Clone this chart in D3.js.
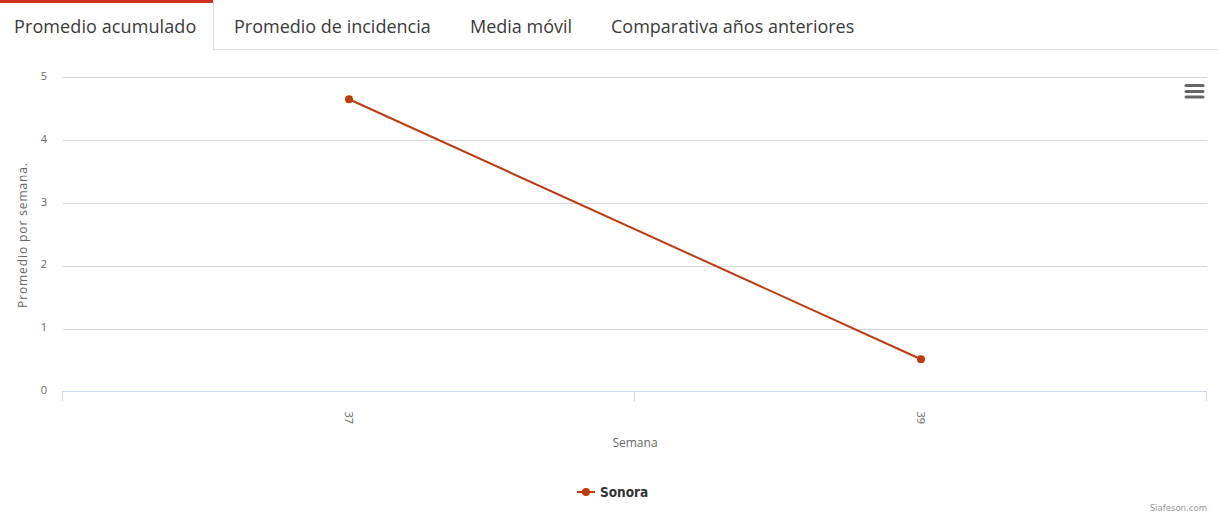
<!DOCTYPE html>
<html>
<head>
<meta charset="utf-8">
<script src="https://cdn.jsdelivr.net/npm/d3@7"></script>
<style>
  body { margin: 0; background: #fff; }
  svg { display: block; }
  .tab { font-family: 'Open Sans', sans-serif; font-size: 18px; }
  .axis text { font-family: 'Open Sans', sans-serif; font-size: 11px; fill: #666; }
  .axis-title { font-family: 'Open Sans', sans-serif; font-size: 12px; fill: #666; }
</style>
</head>
<body>
<div id="chart"></div>
<script>
// data
var tabs = ['Promedio acumulado', 'Promedio de incidencia', 'Media móvil', 'Comparativa años anteriores'];
var semanas = ['37', '39'];
var sonora = [4.65, 0.51];
var yTicks = [0, 1, 2, 3, 4, 5];
var seriesName = 'Sonora';
var color = '#c0390b';

var W = 1218, H = 519;
var plot = { left: 63, right: 1207, top: 77.3, bottom: 391.3 };

var svg = d3.select('#chart').append('svg')
  .attr('width', W).attr('height', H);

// tabs
var tabX = [14, 234, 470, 611];
svg.append('line')
  .attr('x1', 213.5).attr('x2', W).attr('y1', 49.5).attr('y2', 49.5)
  .attr('stroke', '#ddd');
svg.append('line')
  .attr('x1', 213.5).attr('x2', 213.5).attr('y1', 2).attr('y2', 49.5)
  .attr('stroke', '#ddd');
svg.append('rect')
  .attr('x', 0).attr('y', 0).attr('width', 213).attr('height', 3)
  .attr('fill', '#d0311e');
svg.selectAll('text.tab').data(tabs).enter().append('text')
  .attr('class', 'tab')
  .attr('x', function(d, i) { return tabX[i]; })
  .attr('y', 33)
  .attr('fill', '#3a3a3a')
  .attr('letter-spacing', function(d, i) { return i == 0 ? '0.1px' : '0'; })
  .text(function(d) { return d; });

// scales
var x = d3.scaleBand().domain(semanas).range([plot.left, plot.right]);
var y = d3.scaleLinear().domain([0, 5]).range([plot.bottom, plot.top]);

// grid
svg.append('g').selectAll('line').data(yTicks.slice(1)).enter().append('line')
  .attr('x1', plot.left).attr('x2', plot.right)
  .attr('y1', function(d) { return Math.round(y(d)) + 0.5; })
  .attr('y2', function(d) { return Math.round(y(d)) + 0.5; })
  .attr('stroke', '#d8d8d8');

// y axis
var yAxis = d3.axisLeft(y).tickValues(yTicks).tickFormat(d3.format('d')).tickSize(0).tickPadding(0);
svg.append('g').attr('class', 'axis axis-y')
  .attr('transform', 'translate(47,0)')
  .call(yAxis)
  .call(function(g) {
    g.select('.domain').remove();
    g.selectAll('.tick text').attr('dy', '0.2em');
  });

// x axis
var xAxis = d3.axisBottom(x).tickSize(0);
svg.append('g').attr('class', 'axis axis-x')
  .attr('transform', 'translate(0,' + (Math.round(plot.bottom) + 0.5) + ')')
  .call(xAxis)
  .call(function(g) {
    g.select('.domain').remove();
    g.selectAll('.tick text')
      .attr('transform', 'rotate(90)')
      .attr('text-anchor', 'start')
      .attr('x', 20).attr('y', 0).attr('dy', '0.35em');
  });
var xLine = svg.append('g');
xLine.append('line')
  .attr('x1', plot.left).attr('x2', plot.right)
  .attr('y1', Math.round(plot.bottom) + 0.5).attr('y2', Math.round(plot.bottom) + 0.5)
  .attr('stroke', '#ccd6eb');
var bounds = semanas.map(function(d) { return x(d); }).concat([plot.right]);
xLine.selectAll('line.tick').data(bounds).enter().append('line')
  .attr('class', 'tick')
  .attr('x1', function(d) { return Math.round(d) - 0.5; })
  .attr('x2', function(d) { return Math.round(d) - 0.5; })
  .attr('y1', Math.round(plot.bottom)).attr('y2', Math.round(plot.bottom) + 10)
  .attr('stroke', '#ccd6eb');

// axis titles
svg.append('text').attr('class', 'axis-title')
  .attr('x', (plot.left + plot.right) / 2).attr('y', 447)
  .attr('text-anchor', 'middle')
  .text('Semana');
svg.append('text').attr('class', 'axis-title')
  .attr('transform', 'translate(27,' + 235 + ') rotate(-90)')
  .attr('text-anchor', 'middle')
  .attr('letter-spacing', '0.9px')
  .text('Promedio por semana.');

// series
var pts = semanas.map(function(d, i) { return { x: d, y: sonora[i] }; });
var line = d3.line()
  .x(function(d) { return x(d.x) + x.bandwidth() / 2; })
  .y(function(d) { return y(d.y); });
svg.append('path').datum(pts)
  .attr('d', line)
  .attr('fill', 'none')
  .attr('stroke', color)
  .attr('stroke-width', 2);
svg.append('g').selectAll('circle').data(pts).enter().append('circle')
  .attr('cx', function(d) { return x(d.x) + x.bandwidth() / 2; })
  .attr('cy', function(d) { return y(d.y); })
  .attr('r', 4)
  .attr('fill', color);

// legend
var lg = svg.append('g').attr('transform', 'translate(577,492)');
lg.append('line').attr('x1', 0).attr('x2', 18).attr('y1', 0).attr('y2', 0)
  .attr('stroke', color).attr('stroke-width', 2);
lg.append('circle').attr('cx', 9).attr('cy', 0).attr('r', 4).attr('fill', color);
lg.append('text').attr('x', 23).attr('y', 5)
  .attr('font-family', "'DejaVu Sans Condensed', 'Open Sans', sans-serif")
  .attr('font-size', 13.5).attr('font-weight', 'bold').attr('fill', '#333')
  .text(seriesName);

// menu icon
svg.append('g').selectAll('line').data([85.5, 91.5, 97]).enter().append('line')
  .attr('x1', 1186).attr('x2', 1203)
  .attr('y1', function(d) { return d; }).attr('y2', function(d) { return d; })
  .attr('stroke', '#666').attr('stroke-width', 3).attr('stroke-linecap', 'round');

// credits
svg.append('text')
  .attr('x', 1207).attr('y', 511)
  .attr('text-anchor', 'end')
  .attr('font-family', "'DejaVu Sans Condensed', 'Open Sans', sans-serif")
  .attr('font-size', 9.5).attr('fill', '#999')
  .text('Siafeson.com');
</script>
</body>
</html>
